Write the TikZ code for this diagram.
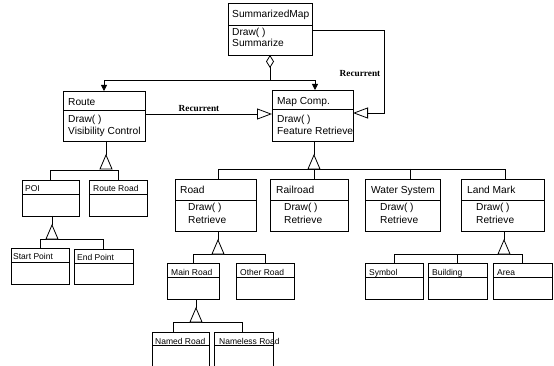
\documentclass[tikz,border=0pt]{standalone}
\usepackage{fontspec}
\setmainfont{Liberation Sans}
\newfontfamily\serifrm{Liberation Serif}
\usetikzlibrary{arrows.meta}
\tikzset{
  umlbox/.style={draw, line width=0.8pt, inner sep=0pt, outer sep=0pt},
  divline/.style={line width=0.8pt},
  conn/.style={line width=0.8pt},
  bigt/.style={font=\fontsize{10.2}{12}\selectfont, inner sep=0pt, anchor=base west},
  smallt/.style={font=\fontsize{8.5}{10}\selectfont, inner sep=0pt, anchor=base west},
  rectxt/.style={font=\serifrm\bfseries\fontsize{9.3}{11}\selectfont, inner sep=0pt},
  gentri/.style={draw, fill=white, line width=0.8pt, line join=miter},
  filltip/.style={-{Triangle[length=6pt,width=6pt]}},
  opentip/.style={-{Triangle[open,length=15pt,width=11pt]}},
}
% name, x1, y1, x2, y2, ydiv
\newcommand\umlcls[6]{%
  \node[umlbox, minimum width={(#4-#2)*1pt}, minimum height={(#5-#3)*1pt}] (#1) at ({(#2+#4)/2},{(#3+#5)/2}) {};
  \draw[divline] (#1.west |- 0,#6) -- (#1.east |- 0,#6);}
\newcommand\gtri[1]{\draw[gentri] (#1) -- ++(6,14) -- ++(-12,0) -- cycle;}
\begin{document}
\begin{tikzpicture}[x=1pt,y=-1pt]
\useasboundingbox (0,0) rectangle (554,366);
\clip (0,0) rectangle (554,366);

% ---------- boxes ----------
\umlcls{sm}{228}{3}{312}{55}{25}
\node[bigt] (sm-t) at (232,18) {SummarizedMap};
\node[bigt] (sm-m1) at (232,36) {Draw( )};
\node[bigt] (sm-m2) at (232,47) {Summarize};

\umlcls{route}{63}{91}{145}{141}{110}
\node[bigt] (route-t) at (68,105.5) {Route};
\node[bigt] (route-m1) at (68,123) {Draw( )};
\node[bigt] (route-m2) at (68,134.5) {Visibility Control};

\umlcls{mapc}{272}{90}{353}{141}{109}
\node[bigt] (mapc-t) at (277,104.5) {Map Comp.};
\node[bigt] (mapc-m1) at (277,123) {Draw( )};
\node[bigt] (mapc-m2) at (277,134.5) {Feature Retrieve};

\umlcls{road}{175}{179}{256}{231}{200}
\node[bigt] (road-t) at (180,194) {Road};
\node[bigt] (road-m1) at (188,211) {Draw( )};
\node[bigt] (road-m2) at (188,223) {Retrieve};

\umlcls{rail}{270}{179}{348}{231}{200}
\node[bigt] (rail-t) at (276,194) {Railroad};
\node[bigt] (rail-m1) at (284,211) {Draw( )};
\node[bigt] (rail-m2) at (284,223) {Retrieve};

\umlcls{water}{365}{179}{440}{231}{200}
\node[bigt] (water-t) at (371,194) {Water System};
\node[bigt] (water-m1) at (380,211) {Draw( )};
\node[bigt] (water-m2) at (380,223) {Retrieve};

\umlcls{lm}{461}{179}{544}{231}{200}
\node[bigt] (lm-t) at (467,194) {Land Mark};
\node[bigt] (lm-m1) at (476,211) {Draw( )};
\node[bigt] (lm-m2) at (476,223) {Retrieve};

\umlcls{poi}{22}{180}{79}{216}{194}
\node[smallt] (poi-t) at (25,191.5) {POI};
\umlcls{rr}{89}{180}{147}{216}{194}
\node[smallt] (rr-t) at (93,191.5) {Route Road};

\umlcls{sp}{11}{248}{69}{284}{262}
\node[smallt] (sp-t) at (13,259.5) {Start Point};
\umlcls{ep}{74}{249}{133}{284}{263}
\node[smallt] (ep-t) at (77,260) {End Point};

\umlcls{mr}{167}{263}{219}{299}{277}
\node[smallt] (mr-t) at (171,275) {Main Road};
\umlcls{or}{236}{263}{294}{299}{277}
\node[smallt] (or-t) at (240,275) {Other Road};

\umlcls{nr}{152}{332}{209}{380}{345}
\node[smallt] (nr-t) at (155,344) {Named Road};
\umlcls{nl}{214}{332}{273}{380}{345}
\node[smallt] (nl-t) at (219,344) {Nameless Road};

\umlcls{sym}{365}{263}{423}{299}{277}
\node[smallt] (sym-t) at (369,275) {Symbol};
\umlcls{bld}{428}{263}{487}{299}{277}
\node[smallt] (bld-t) at (432,275) {Building};
\umlcls{area}{493}{263}{552}{299}{277}
\node[smallt] (area-t) at (497,275) {Area};

% ---------- aggregation ----------
\coordinate (aggj) at (270,80);
\coordinate (aggr) at (315,80);
\draw[conn, {Diamond[open,length=13pt,width=8pt]}-] (sm.south) -- (aggj);
\draw[conn, filltip] (aggj) -| (route.north);
\draw[conn, filltip] (aggj) -- (aggr) -- (aggr |- mapc.north);

% ---------- recurrent ----------
\coordinate (rc1) at (145,114);
\draw[conn, opentip] (route.east |- rc1) -- (mapc.west |- rc1);
\node[rectxt] (rec1) at (199,109) {Recurrent};
\coordinate (rc2a) at (384,30);
\coordinate (rc2b) at (384,113);
\draw[conn, opentip] (sm.east |- rc2a) -- (rc2a) -- (rc2b) -- (mapc.east |- rc2b);
\node[rectxt] (rec2) at (360,74) {Recurrent};

% ---------- generalization: Route ----------
\coordinate (rt-a) at (106,155);
\coordinate (rt-b) at (106,170);
\draw[conn] (rt-a |- route.south) -- (rt-a);
\draw[conn] (poi.north) -- (poi.north |- rt-b) -- (rr.north |- rt-b) -- (rr.north);
\gtri{rt-a}

% ---------- generalization: Map Comp ----------
\coordinate (mc-a) at (314,155);
\coordinate (mc-b1) at (218,169);
\coordinate (mc-b2) at (314,169);
\coordinate (mc-b3) at (410,169);
\coordinate (mc-b4) at (505,169);
\draw[conn] (mc-a |- mapc.south) -- (mc-a);
\draw[conn] (mc-b1 |- road.north) -- (mc-b1) -- (mc-b4) -- (mc-b4 |- lm.north);
\draw[conn] (mc-b2) -- (mc-b2 |- rail.north);
\draw[conn] (mc-b3) -- (mc-b3 |- water.north);
\gtri{mc-a}

% ---------- generalization: POI ----------
\coordinate (poi-a) at (52,225);
\coordinate (poi-b) at (52,239);
\draw[conn] (poi-a |- poi.south) -- (poi-a);
\draw[conn] (sp.north) -- (sp.north |- poi-b) -- (ep.north |- poi-b) -- (ep.north);
\gtri{poi-a}

% ---------- generalization: Road ----------
\coordinate (rd-a) at (218,240);
\coordinate (rd-b) at (218,254);
\draw[conn] (rd-a |- road.south) -- (rd-a);
\draw[conn] (mr.north) -- (mr.north |- rd-b) -- (or.north |- rd-b) -- (or.north);
\gtri{rd-a}

% ---------- generalization: Land Mark ----------
\coordinate (lm-a) at (504,240);
\coordinate (lm-b) at (504,254);
\draw[conn] (lm-a |- lm.south) -- (lm-a);
\draw[conn] (sym.north) -- (sym.north |- lm-b) -- (area.north |- lm-b) -- (area.north);
\draw[conn] (bld.north |- lm-b) -- (bld.north);
\gtri{lm-a}

% ---------- generalization: Main Road ----------
\coordinate (mr-a) at (196,308);
\coordinate (mr-b1) at (173,322);
\coordinate (mr-b2) at (242,322);
\draw[conn] (mr-a |- mr.south) -- (mr-a);
\draw[conn] (mr-b1 |- nr.north) -- (mr-b1) -- (mr-b2) -- (mr-b2 |- nl.north);
\gtri{mr-a}
\end{tikzpicture}
\end{document}
